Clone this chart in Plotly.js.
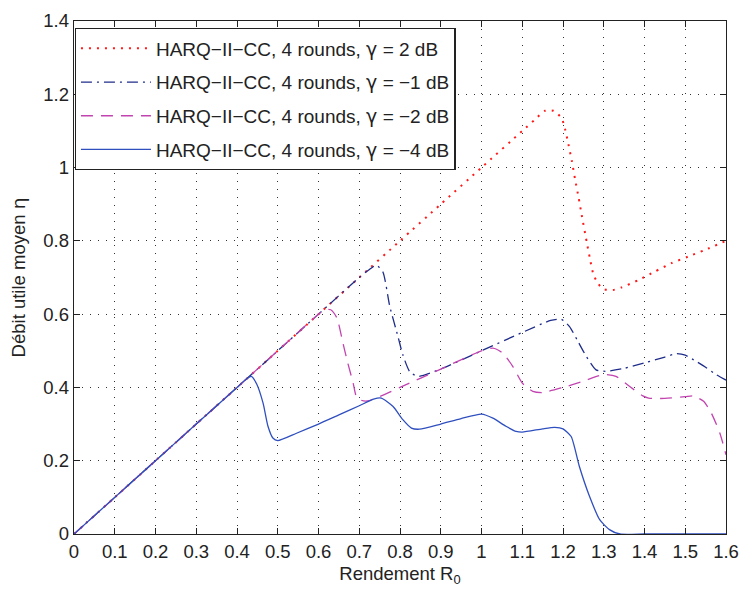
<!DOCTYPE html>
<html>
<head>
<meta charset="utf-8">
<script src="https://cdn.plot.ly/plotly-3.0.1.min.js"></script>
<style>html,body{margin:0;padding:0;background:#fff;}#chart{width:741px;height:590px;}</style>
</head>
<body>
<div id="chart"></div>
<script>
// gamma = 2 dB
const x2 = [0,0.1,0.2,0.3,0.4,0.5,0.6,0.7,0.8,0.9,1.0,1.1,1.13,1.156,1.177,1.197,1.205,1.213,1.222,1.23,1.238,1.246,1.258,1.266,1.275,1.287,1.299,1.323,1.344,1.385,1.425,1.466,1.507,1.548,1.6];
const y2 = [0,0.1,0.2,0.3,0.4,0.5,0.6,0.7,0.8,0.9,1.0,1.1,1.13,1.155,1.155,1.134,1.105,1.065,1.016,0.966,0.92,0.87,0.798,0.752,0.707,0.682,0.668,0.666,0.673,0.693,0.716,0.739,0.757,0.775,0.8];
// gamma = -1 dB
const xm1 = [0,0.1,0.2,0.3,0.4,0.5,0.6,0.7,0.725,0.742,0.758,0.775,0.795,0.807,0.824,0.844,0.9,1.0,1.1,1.17,1.196,1.216,1.237,1.257,1.281,1.306,1.35,1.4,1.45,1.478,1.5,1.527,1.55,1.576,1.6];
const ym1 = [0,0.1,0.2,0.3,0.4,0.5,0.6,0.7,0.722,0.734,0.715,0.621,0.539,0.489,0.443,0.43,0.45,0.5,0.55,0.583,0.586,0.566,0.525,0.485,0.448,0.444,0.452,0.467,0.483,0.492,0.488,0.471,0.455,0.435,0.42];
// gamma = -2 dB
const xm2 = [0,0.1,0.2,0.3,0.4,0.5,0.6,0.615,0.63,0.645,0.66,0.672,0.685,0.693,0.705,0.72,0.75,0.8,0.9,1.0,1.028,1.052,1.077,1.1,1.126,1.15,1.2,1.25,1.3,1.33,1.363,1.396,1.41,1.45,1.5,1.52,1.545,1.564,1.585,1.6];
const ym2 = [0,0.1,0.2,0.3,0.4,0.5,0.6,0.612,0.612,0.59,0.521,0.466,0.412,0.375,0.365,0.363,0.375,0.4,0.45,0.5,0.507,0.494,0.457,0.412,0.389,0.386,0.4,0.417,0.435,0.43,0.403,0.377,0.371,0.37,0.375,0.377,0.362,0.33,0.275,0.216];
// gamma = -4 dB
const xm4 = [0,0.1,0.2,0.3,0.4,0.42,0.435,0.448,0.464,0.476,0.488,0.5,0.546,0.6,0.65,0.7,0.735,0.754,0.783,0.807,0.828,0.848,0.9,0.95,1.0,1.028,1.06,1.085,1.1,1.15,1.18,1.2,1.22,1.24,1.265,1.29,1.314,1.34,1.4,1.5,1.6];
const ym4 = [0,0.1,0.2,0.3,0.4,0.42,0.43,0.41,0.357,0.294,0.262,0.255,0.275,0.3,0.325,0.35,0.368,0.371,0.348,0.312,0.289,0.286,0.3,0.315,0.327,0.316,0.294,0.28,0.278,0.287,0.291,0.287,0.266,0.185,0.103,0.039,0.012,0,0,0,0];

const G = '<span style="font-family:\'DejaVu Sans\'">\u03b3</span>';
const names = [
  'HARQ\u2212II\u2212CC, 4 rounds, ' + G + ' = 2 dB',
  'HARQ\u2212II\u2212CC, 4 rounds, ' + G + ' = \u22121 dB',
  'HARQ\u2212II\u2212CC, 4 rounds, ' + G + ' = \u22122 dB',
  'HARQ\u2212II\u2212CC, 4 rounds, ' + G + ' = \u22124 dB'
];
const xTicks = [0,0.1,0.2,0.3,0.4,0.5,0.6,0.7,0.8,0.9,1,1.1,1.2,1.3,1.4,1.5,1.6];
const yTicks = [0,0.2,0.4,0.6,0.8,1,1.2,1.4];

const traces = [
  {x:x2, y:y2, name:names[0], legendgroup:'a', line:{color:'#ff1a1a', width:2, dash:'2px,6px', shape:'spline', smoothing:0.6}},
  {x:xm1, y:ym1, name:names[1], legendgroup:'b', line:{color:'#1f2d8a', width:1.3, dash:'11px,5px,2px,5px', shape:'spline', smoothing:0.6}},
  {x:xm2, y:ym2, name:names[2], legendgroup:'c', line:{color:'#c244b0', width:1.3, dash:'12px,8px', shape:'spline', smoothing:0.6}},
  {x:xm4, y:ym4, name:names[3], legendgroup:'d', line:{color:'#2f4fbf', width:1.3, shape:'spline', smoothing:0.6}}
].map(t => Object.assign({type:'scatter', mode:'lines'}, t));

const font = {family:'"Liberation Sans", Arial, sans-serif', size:18.5, color:'#222'};
const legendFont = Object.assign({}, font, {size:19});
const axisCommon = {
  showline:true, linecolor:'#222', linewidth:1.3, mirror:'allticks',
  ticks:'inside', ticklen:6, tickcolor:'#222', tickwidth:1,
  showgrid:true, gridcolor:'#333', gridwidth:1, griddash:'1px,7px',
  zeroline:false, tickfont:font
};
const layout = {
  width:741, height:590,
  margin:{l:74, r:15, t:21, b:56},
  paper_bgcolor:'#fff', plot_bgcolor:'#fff',
  font:font,
  showlegend:true,
  xaxis:Object.assign({}, axisCommon, {range:[0,1.6], tickvals:xTicks, ticktext:xTicks.map(String),
    title:{text:'Rendement R<sub>0</sub>', font:font, standoff:6}}),
  yaxis:Object.assign({}, axisCommon, {range:[0,1.4], tickvals:yTicks, ticktext:yTicks.map(String),
    title:{text:'Débit utile moyen <span style="font-family:\'DejaVu Sans\'">\u03b7</span>', font:font, standoff:12}}),
  legend:{x:0.001, y:0.986, xanchor:'left', yanchor:'top', bgcolor:'#fff',
    bordercolor:'#222', borderwidth:1.3, font:legendFont, itemwidth:70, tracegroupgap:6,
    traceorder:'grouped'}
};
Plotly.newPlot('chart', traces, layout, {displayModeBar:false, staticPlot:true});
</script>
</body>
</html>
